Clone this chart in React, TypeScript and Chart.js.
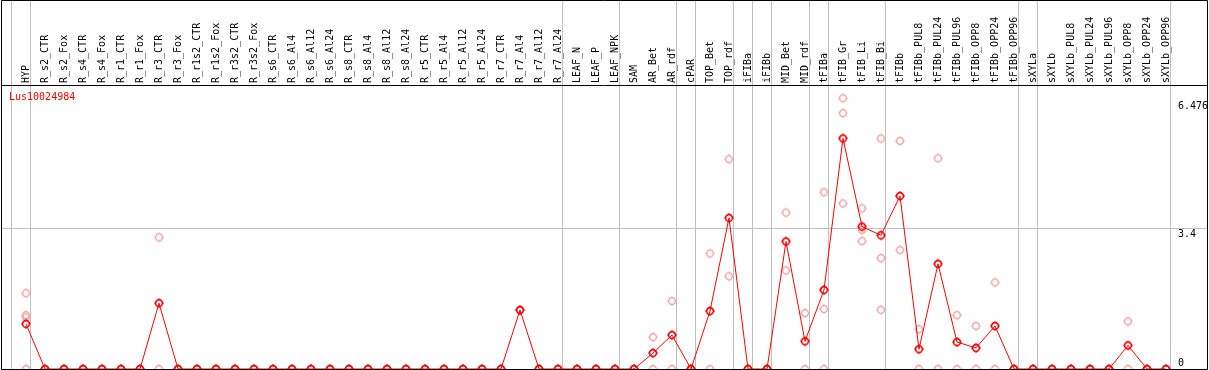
import React, { useEffect, useRef } from 'react';
import { Chart, registerables } from 'chart.js';

Chart.register(...registerables);

const seriesName = 'Lus10024984';

const categories = [
  'HYP',
  'R_s2_CTR', 'R_s2_Fox', 'R_s4_CTR', 'R_s4_Fox', 'R_r1_CTR', 'R_r1_Fox', 'R_r3_CTR', 'R_r3_Fox',
  'R_r1s2_CTR', 'R_r1s2_Fox', 'R_r3s2_CTR', 'R_r3s2_Fox',
  'R_s6_CTR', 'R_s6_Al4', 'R_s6_Al12', 'R_s6_Al24',
  'R_s8_CTR', 'R_s8_Al4', 'R_s8_Al12', 'R_s8_Al24',
  'R_r5_CTR', 'R_r5_Al4', 'R_r5_Al12', 'R_r5_Al24',
  'R_r7_CTR', 'R_r7_Al4', 'R_r7_Al12', 'R_r7_Al24',
  'LEAF_N', 'LEAF_P', 'LEAF_NPK',
  'SAM', 'AR_Bet', 'AR_rdf', 'cPAR', 'TOP_Bet', 'TOP_rdf', 'iFIBa', 'iFIBb', 'MID_Bet', 'MID_rdf',
  'tFIBa', 'tFIB_Gr', 'tFIB_Li', 'tFIB_Bi', 'tFIBb',
  'tFIBb_PUL8', 'tFIBb_PUL24', 'tFIBb_PUL96', 'tFIBb_OPP8', 'tFIBb_OPP24', 'tFIBb_OPP96',
  'sXYLa', 'sXYLb',
  'sXYLb_PUL8', 'sXYLb_PUL24', 'sXYLb_PUL96', 'sXYLb_OPP8', 'sXYLb_OPP24', 'sXYLb_OPP96',
];

// mean expression per sample
const means = [
  1.09,
  0, 0, 0, 0, 0, 0, 1.59, 0,
  0, 0, 0, 0,
  0, 0, 0, 0,
  0, 0, 0, 0,
  0, 0, 0, 0,
  0, 1.425, 0, 0,
  0, 0, 0,
  0, 0.385, 0.82, 0, 1.40, 3.65, 0, 0, 3.08, 0.67,
  1.91, 5.57, 3.44, 3.23, 4.18,
  0.48, 2.54, 0.65, 0.51, 1.04, 0,
  0, 0,
  0, 0, 0, 0.57, 0, 0,
];

// individual replicates (null = no such replicate)
const rep1 = [
  1.83,
  0, 0, 0, 0, 0, 0, 3.18, 0,
  0, 0, 0, 0,
  0, 0, 0, 0,
  0, 0, 0, 0,
  0, 0, 0, 0,
  0, 1.43, 0, 0,
  0, 0, 0,
  0, 0.77, 1.64, 0, 2.79, 5.07, 0, 0, 3.78, 1.35,
  4.27, 6.54, 3.88, 5.57, 5.51,
  0.96, 5.09, 1.30, 1.04, 2.09, 0,
  0, 0,
  0, 0, 0, 1.15, 0, 0,
];
const rep2 = [
  1.30,
  0, 0, 0, 0, 0, 0, 0, 0,
  0, 0, 0, 0,
  0, 0, 0, 0,
  0, 0, 0, 0,
  0, 0, 0, 0,
  0, 1.42, 0, 0,
  0, 0, 0,
  0, 0, 0, 0, 0, 2.24, 0, 0, 2.38, 0,
  1.45, 6.18, 3.36, 2.68, 2.87,
  0, 0, 0, 0, 0, 0,
  0, 0,
  0, 0, 0, 0, 0, 0,
];
const rep3 = [
  1.25,
  null, null, null, null, null, null, null, null,
  null, null, null, null,
  null, null, null, null,
  null, null, null, null,
  null, null, null, null,
  null, null, null, null,
  null, null, null,
  null, null, null, null, null, null, null, null, null, null,
  0, 4.00, 3.09, 1.43, null,
  null, null, null, null, null, null,
  null, null,
  null, null, null, null, null, null,
];
const rep4 = [
  0,
  null, null, null, null, null, null, null, null,
  null, null, null, null,
  null, null, null, null,
  null, null, null, null,
  null, null, null, null,
  null, null, null, null,
  null, null, null,
  null, null, null, null, null, null, null, null, null, null,
  null, null, null, null, null,
  null, null, null, null, null, null,
  null, null,
  null, null, null, null, null, null,
];

// group separators are drawn just after these sample indices
const separatorsAfter = [-1, 0, 28, 31, 34, 35, 37, 38, 39, 41, 42, 45, 52, 53, 60];

const yTicks = [0, 3.4, 6.476];
const yMax = 6.86;

const FONT = 'DejaVu Sans Mono';

function makeMarker(color: string, lw: number, r: number): HTMLCanvasElement {
  const size = 12;
  const c = document.createElement('canvas');
  c.width = size;
  c.height = size;
  const g = c.getContext('2d')!;
  const m = size / 2;
  g.strokeStyle = color;
  g.lineWidth = lw;
  g.beginPath();
  g.arc(m, m, r, 0, Math.PI * 2);
  g.stroke();
  g.lineWidth = 1;
  g.beginPath();
  g.moveTo(m, m - r - 1.6); g.lineTo(m, m - r);
  g.moveTo(m, m + r); g.lineTo(m, m + r + 1.6);
  g.moveTo(m - r - 1.6, m); g.lineTo(m - r, m);
  g.moveTo(m + r, m); g.lineTo(m + r + 1.6, m);
  g.stroke();
  return c;
}

export default function App() {
  const ref = useRef<HTMLCanvasElement | null>(null);

  useEffect(() => {
    document.body.style.margin = '0';
    const canvas = ref.current;
    if (!canvas) return;

    const redMarker = makeMarker('#ff0000', 1.6, 3.4);
    const pinkMarker = makeMarker('#f0a0a0', 1.2, 3.3);

    const repPoints: { x: number; y: number }[] = [];
    [rep1, rep2, rep3, rep4].forEach((arr) => {
      arr.forEach((v, i) => {
        if (v !== null && v !== undefined) repPoints.push({ x: i, y: v as number });
      });
    });

    // x: sample i sits 19px apart, first at x=26, chart area spans 1..1207
    const step = 19;
    const xMin = -(26 - 1) / step;
    const xMax = xMin + (1207 - 1) / step;

    const framePlugin = {
      id: 'frame',
      beforeDatasetsDraw(chart: any) {
        const { ctx, chartArea, scales } = chart;
        ctx.save();
        ctx.strokeStyle = '#c0c0c0';
        ctx.lineWidth = 1;
        separatorsAfter.forEach((i) => {
          const px = Math.floor(scales.x.getPixelForValue(i + 0.24)) + 0.5;
          ctx.beginPath();
          ctx.moveTo(px, 0);
          ctx.lineTo(px, chartArea.bottom);
          ctx.stroke();
        });
        ctx.restore();
      },
      afterDraw(chart: any) {
        const { ctx, chartArea } = chart;
        ctx.save();
        ctx.strokeStyle = '#000';
        ctx.lineWidth = 1;
        ctx.beginPath();
        ctx.rect(1.5, 0.5, chartArea.right - 1, chartArea.bottom);
        ctx.moveTo(1, chartArea.top + 0.5);
        ctx.lineTo(chartArea.right + 1, chartArea.top + 0.5);
        ctx.stroke();
        ctx.fillStyle = '#ff0000';
        ctx.font = `10px "${FONT}"`;
        ctx.textBaseline = 'middle';
        ctx.textAlign = 'left';
        ctx.fillText(seriesName, 9, chartArea.top + 12);
        ctx.restore();
      },
    };

    const chart = new Chart(canvas, {
      type: 'line',
      data: {
        datasets: [
          {
            label: seriesName,
            data: means.map((v, i) => ({ x: i, y: v })),
            borderColor: '#ff0000',
            borderWidth: 1,
            pointStyle: redMarker as any,
            pointRadius: 0.2,
            pointBorderWidth: 0,
            tension: 0,
            clip: 6,
            order: 0,
          },
          {
            label: 'replicates',
            data: repPoints,
            showLine: false,
            borderWidth: 0,
            pointStyle: pinkMarker as any,
            pointRadius: 0.2,
            pointBorderWidth: 0,
            clip: 6,
            order: 1,
          },
        ],
      },
      options: {
        responsive: false,
        animation: false,
        layout: { autoPadding: false, padding: { left: 1, right: 2, top: 0, bottom: 1 } },
        plugins: {
          legend: { display: false },
          tooltip: { enabled: false },
        },
        scales: {
          x: {
            type: 'linear',
            position: 'top',
            min: xMin,
            max: xMax,
            grid: { display: false, drawTicks: false },
            border: { display: false },
            afterBuildTicks: (s: any) => {
              s.ticks = categories.map((_, i) => ({ value: i }));
            },
            afterFit: (s: any) => {
              s.height = 85;
              s.paddingLeft = 0;
              s.paddingRight = 0;
            },
            ticks: {
              autoSkip: false,
              minRotation: 90,
              maxRotation: 90,
              padding: 2,
              labelOffset: 12,
              color: '#000',
              font: { family: FONT, size: 10 },
              callback: (v: any) => categories[v] ?? '',
            },
          },
          y: {
            type: 'linear',
            position: 'right',
            min: 0,
            max: yMax,
            grid: {
              drawTicks: false,
              color: (c: any) => (c.tick && c.tick.value === 3.4 ? '#c0c0c0' : 'rgba(0,0,0,0)'),
            },
            border: { display: false },
            afterBuildTicks: (s: any) => {
              s.ticks = yTicks.map((v) => ({ value: v }));
            },
            afterFit: (s: any) => {
              s.width = 0;
              s.paddingTop = 0;
              s.paddingBottom = 0;
            },
            ticks: {
              mirror: true,
              crossAlign: 'far',
              padding: 1,
              color: '#000',
              font: { family: FONT, size: 10 },
              callback: (v: any) => (v === 0 ? ['0', ''] : ['', String(v)]),
            },
          },
        },
      },
      plugins: [framePlugin],
    });

    return () => chart.destroy();
  }, []);

  return (
    <div style={{ width: 1209, height: 370 }}>
      <canvas ref={ref} width={1209} height={370} style={{ display: 'block' }} />
    </div>
  );
}
